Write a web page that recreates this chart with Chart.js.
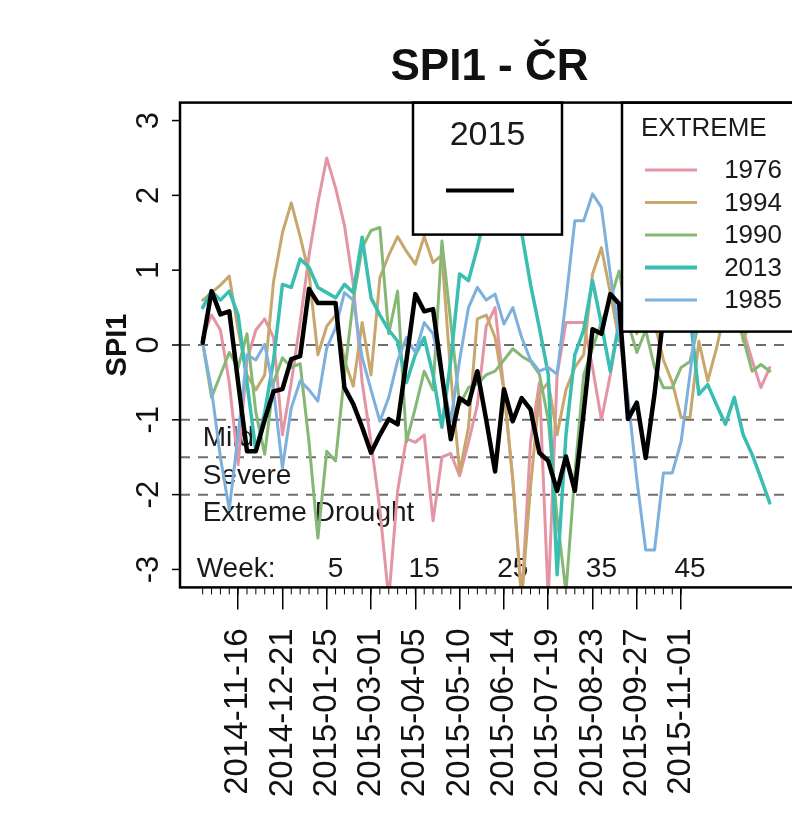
<!DOCTYPE html>
<html>
<head>
<meta charset="utf-8">
<title>SPI1 - ČR</title>
<script src="https://cdn.jsdelivr.net/npm/chart.js@4.4.0/dist/chart.umd.min.js"></script>
<style>
    html, body { margin: 0; padding: 0; background: #fff; overflow: hidden; }
    #wrap { width: 800px; height: 818px; }
</style>
</head>
<body>
<div id="wrap"><canvas id="spiChart" width="800" height="818"></canvas></div>
<script>
// weekly SPI1 values, index 0 = 2014-10-19
let years = ["1976", "1994", "1990", "2013", "1985"];
let yearColors = ["#E495A5", "#C7A76C", "#86B875", "#39BEB1", "#7DB0DD"];

let spi1976 = [0.1, 0.4, 0.2, -0.5, -1.6, -0.2, 0.2, 0.35, 0.1, -1.2,
    -0.5, 0.3, 1.2, 1.9, 2.5, 2.1, 1.6, 0.8, -0.5, -1.3,
    -2.2, -3.4, -1.95, -1.25, -1.3, -1.2, -2.35, -1.5, -1.45, -1.75,
    -1.3, -0.8, 0.25, 0.5, -0.6, -1.8, -3.4, -1.3, -0.5, -3.4,
    -0.4, 0.3, 0.3, 0.3, -0.3, -1.0, -0.4, 0.3, 0.8, 0.5,
    1.1, 0.6, 0.9, 1.3, 0.7, 1.0, 0.5, 0.9, 0.6, 1.2,
    0.8, 0.2, -0.2, -0.57, -0.3];
let spi1994 = [0.6, 0.7, 0.8, 0.92, 0.2, -0.4, -0.6, -0.4, 0.85, 1.5,
    1.9, 1.45, 0.95, -0.13, 0.25, 0.4, -0.2, -0.55, 0.3, -0.4,
    0.9, 1.2, 1.45, 1.25, 1.08, 1.45, 1.1, 1.2, -0.4, -1.7,
    -1.1, 0.35, 0.4, 0.1, -0.6, -1.8, -3.4, -1.9, -0.65, -0.5,
    -1.2, -0.6, -0.3, -0.13, 0.95, 1.3, 0.7, 0.05, 0.4, 0.15,
    0.5, 0.3, -0.2, -0.5, -0.97, -0.97, 0.05, -0.48, -0.04, 0.5,
    0.9, 0.05, 0.4, 0.7, 0.5];
let spi1990 = [0.03, -0.7, -0.4, -0.1, -0.3, 0.15, -0.9, -1.46, -0.5, -0.17,
    -0.3, -0.25, -1.3, -2.58, -1.42, -1.55, -0.4, 0.6, 1.3, 1.53,
    1.57, 0.15, 0.72, -1.29, -0.84, -0.35, -0.6, 1.39, 0.3, -0.8,
    -0.57, -0.52, -0.4, -0.35, -0.2, -0.05, -0.15, -0.22, -0.39, -1.0,
    -2.3, -3.3, -1.73, -0.4, -0.04, 0.3, 0.6, 0.99, 0.3, -0.1,
    0.2, -0.3, -0.57, -0.57, -0.3, -0.22, 0.3, 0.6, 0.2, 0.8,
    0.4, 0.1, -0.35, -0.26, -0.35];
let spi2013 = [0.5, 0.72, 0.6, 0.72, 0.4, -0.5, -1.42, -0.9, -0.2, 0.81,
    0.77, 1.15, 1.04, 0.77, 0.7, 0.63, 0.81, 0.7, 1.44, 0.63,
    0.4, 0.2, 0.05, -0.5, -0.13, 0.1, -0.4, -1.1, -0.2, 0.95,
    0.86, 1.3, 1.8, 2.2, 2.4, 2.1, 1.5, 0.81, 0.23, -0.39,
    -3.07, -1.2, -0.13, 0.2, 0.86, 0.28, -0.35, 0.3, 0.9, 1.2,
    0.6, 1.0, 1.4, 0.8, 1.1, 0.4, -0.66, -0.53, -0.8, -1.06,
    -0.7, -1.2, -1.46, -1.78, -2.11];
let spi1985 = [0.03, -0.6, -1.5, -2.2, -1.2, -0.13, -0.2, 0.01, -0.6, -1.64,
    -0.84, -0.48, -0.6, -0.75, -0.04, 0.23, 0.7, 0.6, -0.17, -0.6,
    -1.02, -0.7, -0.21, 0.1, -0.1, 0.3, 0.15, -0.4, -1.02, -0.2,
    0.5, 0.77, 0.6, 0.68, 0.28, 0.5, 0.1, -0.2, -0.35, -0.3,
    -0.39, 0.6, 1.66, 1.66, 2.02, 1.84, 0.95, 0.15, -0.7, -1.8,
    -2.74, -2.74, -1.71, -1.71, -1.29, -0.39, 0.6, 0.9, 0.4, 1.1,
    0.7, 0.5, 1.0, 0.8, 0.6];
let spi2015 = [0.03, 0.72, 0.41, 0.45, -0.5, -1.42, -1.42, -1.0, -0.62, -0.59,
    -0.19, -0.15, 0.75, 0.56, 0.56, 0.56, -0.57, -0.79, -1.1, -1.44,
    -1.2, -0.99, -1.06, -0.2, 0.68, 0.45, 0.48, -0.4, -1.26, -0.71,
    -0.79, -0.35, -1.0, -1.69, -0.59, -1.02, -0.71, -0.86, -1.44, -1.55,
    -1.95, -1.49, -1.95, -0.9, 0.21, 0.15, 0.68, 0.55, -0.99, -0.77,
    -1.51, -0.65, 0.4];

let dateTickIndex = [4, 9, 14, 19, 24, 29, 34, 39, 44, 49, 54];
let dateLabels = ["2014-11-16", "2014-12-21", "2015-01-25", "2015-03-01", "2015-04-05",
    "2015-05-10", "2015-06-14", "2015-07-19", "2015-08-23", "2015-09-27", "2015-11-01"];
let weekNumbers = [5, 15, 25, 35, 45];
let weekOffset = 10; // week w of 2015 is index w + 10
let yTicks = [3, 2, 1, 0, -1, -2, -3];
let droughtLevels = [0, -1, -1.5, -2];
let droughtNames = ["Mild", "Severe", "Extreme Drought"];

const FONT = "'Liberation Sans', Arial, Helvetica, sans-serif";

function toPoints(values) {
    return values.map((v, i) => ({ x: i, y: v }));
}

let seriesList = [spi1976, spi1994, spi1990, spi2013, spi1985];
let datasets = seriesList.map((s, k) => ({
    label: years[k],
    data: toPoints(s),
    borderColor: yearColors[k],
    borderWidth: years[k] === "2013" ? 3.5 : 3,
    order: 5 - k,
}));
datasets.push({
    label: "2015",
    data: toPoints(spi2015),
    borderColor: "#000",
    borderWidth: 4.5,
    order: 0,
});
datasets.forEach(d => {
    d.pointRadius = 0;
    d.tension = 0;
    d.fill = false;
    d.borderJoinStyle = "round";
    d.borderCapStyle = "round";
});

let decor = {
    id: "decor",
    beforeDatasetsDraw(chart) {
        let ctx = chart.ctx, xs = chart.scales.x, ys = chart.scales.y, a = chart.chartArea;
        ctx.save();
        ctx.strokeStyle = "#6e6e6e";
        ctx.lineWidth = 2;
        ctx.setLineDash([10, 8]);
        droughtLevels.forEach(v => {
            let py = ys.getPixelForValue(v);
            ctx.beginPath();
            ctx.moveTo(a.left, py);
            ctx.lineTo(a.right, py);
            ctx.stroke();
        });
        ctx.setLineDash([]);

        ctx.fillStyle = "#1a1a1a";
        ctx.font = "28px " + FONT;
        ctx.textBaseline = "middle";
        ctx.textAlign = "left";
        let x0 = xs.getPixelForValue(0);
        let textY = [-1.25, -1.75, -2.25];
        droughtNames.forEach((t, k) => ctx.fillText(t, x0, ys.getPixelForValue(textY[k])));
        ctx.fillText("Week:", x0 - 6, ys.getPixelForValue(-3));
        ctx.textAlign = "center";
        weekNumbers.forEach(w => ctx.fillText(String(w), xs.getPixelForValue(w + weekOffset), ys.getPixelForValue(-3)));
        ctx.restore();
    },
    afterDatasetsDraw(chart) {
        let ctx = chart.ctx, a = chart.chartArea;
        ctx.save();
        // legend 2015
        ctx.fillStyle = "#fff";
        ctx.strokeStyle = "#000";
        ctx.lineWidth = 2.5;
        ctx.fillRect(413, a.top, 149, 132);
        ctx.strokeRect(413, a.top, 149, 132);
        ctx.fillStyle = "#1a1a1a";
        ctx.font = "34px " + FONT;
        ctx.textAlign = "center";
        ctx.textBaseline = "middle";
        ctx.fillText("2015", 487.5, 136);
        ctx.strokeStyle = "#000";
        ctx.lineWidth = 4;
        ctx.beginPath();
        ctx.moveTo(446, 190.5);
        ctx.lineTo(514, 190.5);
        ctx.stroke();

        // legend EXTREME
        ctx.fillStyle = "#fff";
        ctx.lineWidth = 2.5;
        ctx.fillRect(622, a.top, 200, 229);
        ctx.strokeRect(622, a.top, 200, 229);
        ctx.fillStyle = "#1a1a1a";
        ctx.font = "26px " + FONT;
        ctx.textAlign = "left";
        ctx.fillText("EXTREME", 641, 129);
        years.forEach((yr, k) => {
            let py = 170 + k * 32.5;
            ctx.strokeStyle = yearColors[k];
            ctx.lineWidth = yr === "2013" ? 4 : 3;
            ctx.beginPath();
            ctx.moveTo(645, py);
            ctx.lineTo(697, py);
            ctx.stroke();
            ctx.textAlign = "right";
            ctx.fillText(yr, 782, py + 1);
        });
        ctx.restore();
    },
    afterDraw(chart) {
        let ctx = chart.ctx, xs = chart.scales.x, ys = chart.scales.y, a = chart.chartArea;
        ctx.save();
        ctx.strokeStyle = "#000";
        ctx.lineWidth = 2.5;
        ctx.strokeRect(a.left, a.top, a.right - a.left, a.bottom - a.top);

        // y axis ticks and labels
        ctx.lineWidth = 1.5;
        ctx.fillStyle = "#111";
        ctx.font = "31px " + FONT;
        ctx.textAlign = "center";
        ctx.textBaseline = "middle";
        yTicks.forEach(v => {
            let py = ys.getPixelForValue(v);
            ctx.beginPath();
            ctx.moveTo(a.left, py);
            ctx.lineTo(a.left - 8, py);
            ctx.stroke();
            ctx.save();
            ctx.translate(149, py);
            ctx.rotate(-Math.PI / 2);
            ctx.fillText(String(v), 0, 0);
            ctx.restore();
        });

        // weekly minor ticks
        ctx.lineWidth = 1;
        for (let i = 0; i <= 54; i++) {
            let px = xs.getPixelForValue(i);
            ctx.beginPath();
            ctx.moveTo(px, a.bottom);
            ctx.lineTo(px, a.bottom + 7);
            ctx.stroke();
        }

        // titles
        ctx.fillStyle = "#111";
        ctx.font = "bold 44px " + FONT;
        ctx.textBaseline = "alphabetic";
        ctx.fillText("SPI1 - ČR", (a.left + a.right) / 2 + 2, 80);
        ctx.save();
        ctx.translate(118, (a.top + a.bottom) / 2);
        ctx.rotate(-Math.PI / 2);
        ctx.font = "bold 29px " + FONT;
        ctx.textBaseline = "middle";
        ctx.fillText("SPI1", 0, 0);
        ctx.restore();
        ctx.restore();
    }
};

let ctx = document.getElementById("spiChart").getContext("2d");
let myChart = new Chart(ctx, {
    type: "line",
    data: { datasets: datasets },
    options: {
        responsive: false,
        animation: false,
        layout: { padding: { top: 102.6, right: 5, left: 0, bottom: 0 } },
        plugins: {
            legend: { display: false },
            title: { display: false },
            tooltip: { enabled: false },
        },
        scales: {
            x: {
                type: "linear",
                min: -2.56,
                max: 66.85,
                afterBuildTicks: (scale) => {
                    scale.ticks = dateTickIndex.map(v => ({ value: v }));
                },
                afterFit: (scale) => {
                    scale.height = 230.6;
                },
                grid: {
                    display: true,
                    drawOnChartArea: false,
                    drawTicks: true,
                    tickLength: 22,
                    color: "#000",
                    lineWidth: 1.5,
                },
                border: { display: false },
                ticks: {
                    autoSkip: false,
                    maxRotation: 90,
                    minRotation: 90,
                    padding: 19,
                    color: "#111",
                    font: { family: FONT, size: 33 },
                    callback: (value, index) => dateLabels[index],
                },
            },
            y: {
                type: "linear",
                min: -3.24,
                max: 3.24,
                afterFit: (scale) => {
                    scale.width = 180;
                },
                grid: { display: false },
                border: { display: false },
                ticks: { display: false },
            },
        },
    },
    plugins: [decor],
});
</script>
</body>
</html>
